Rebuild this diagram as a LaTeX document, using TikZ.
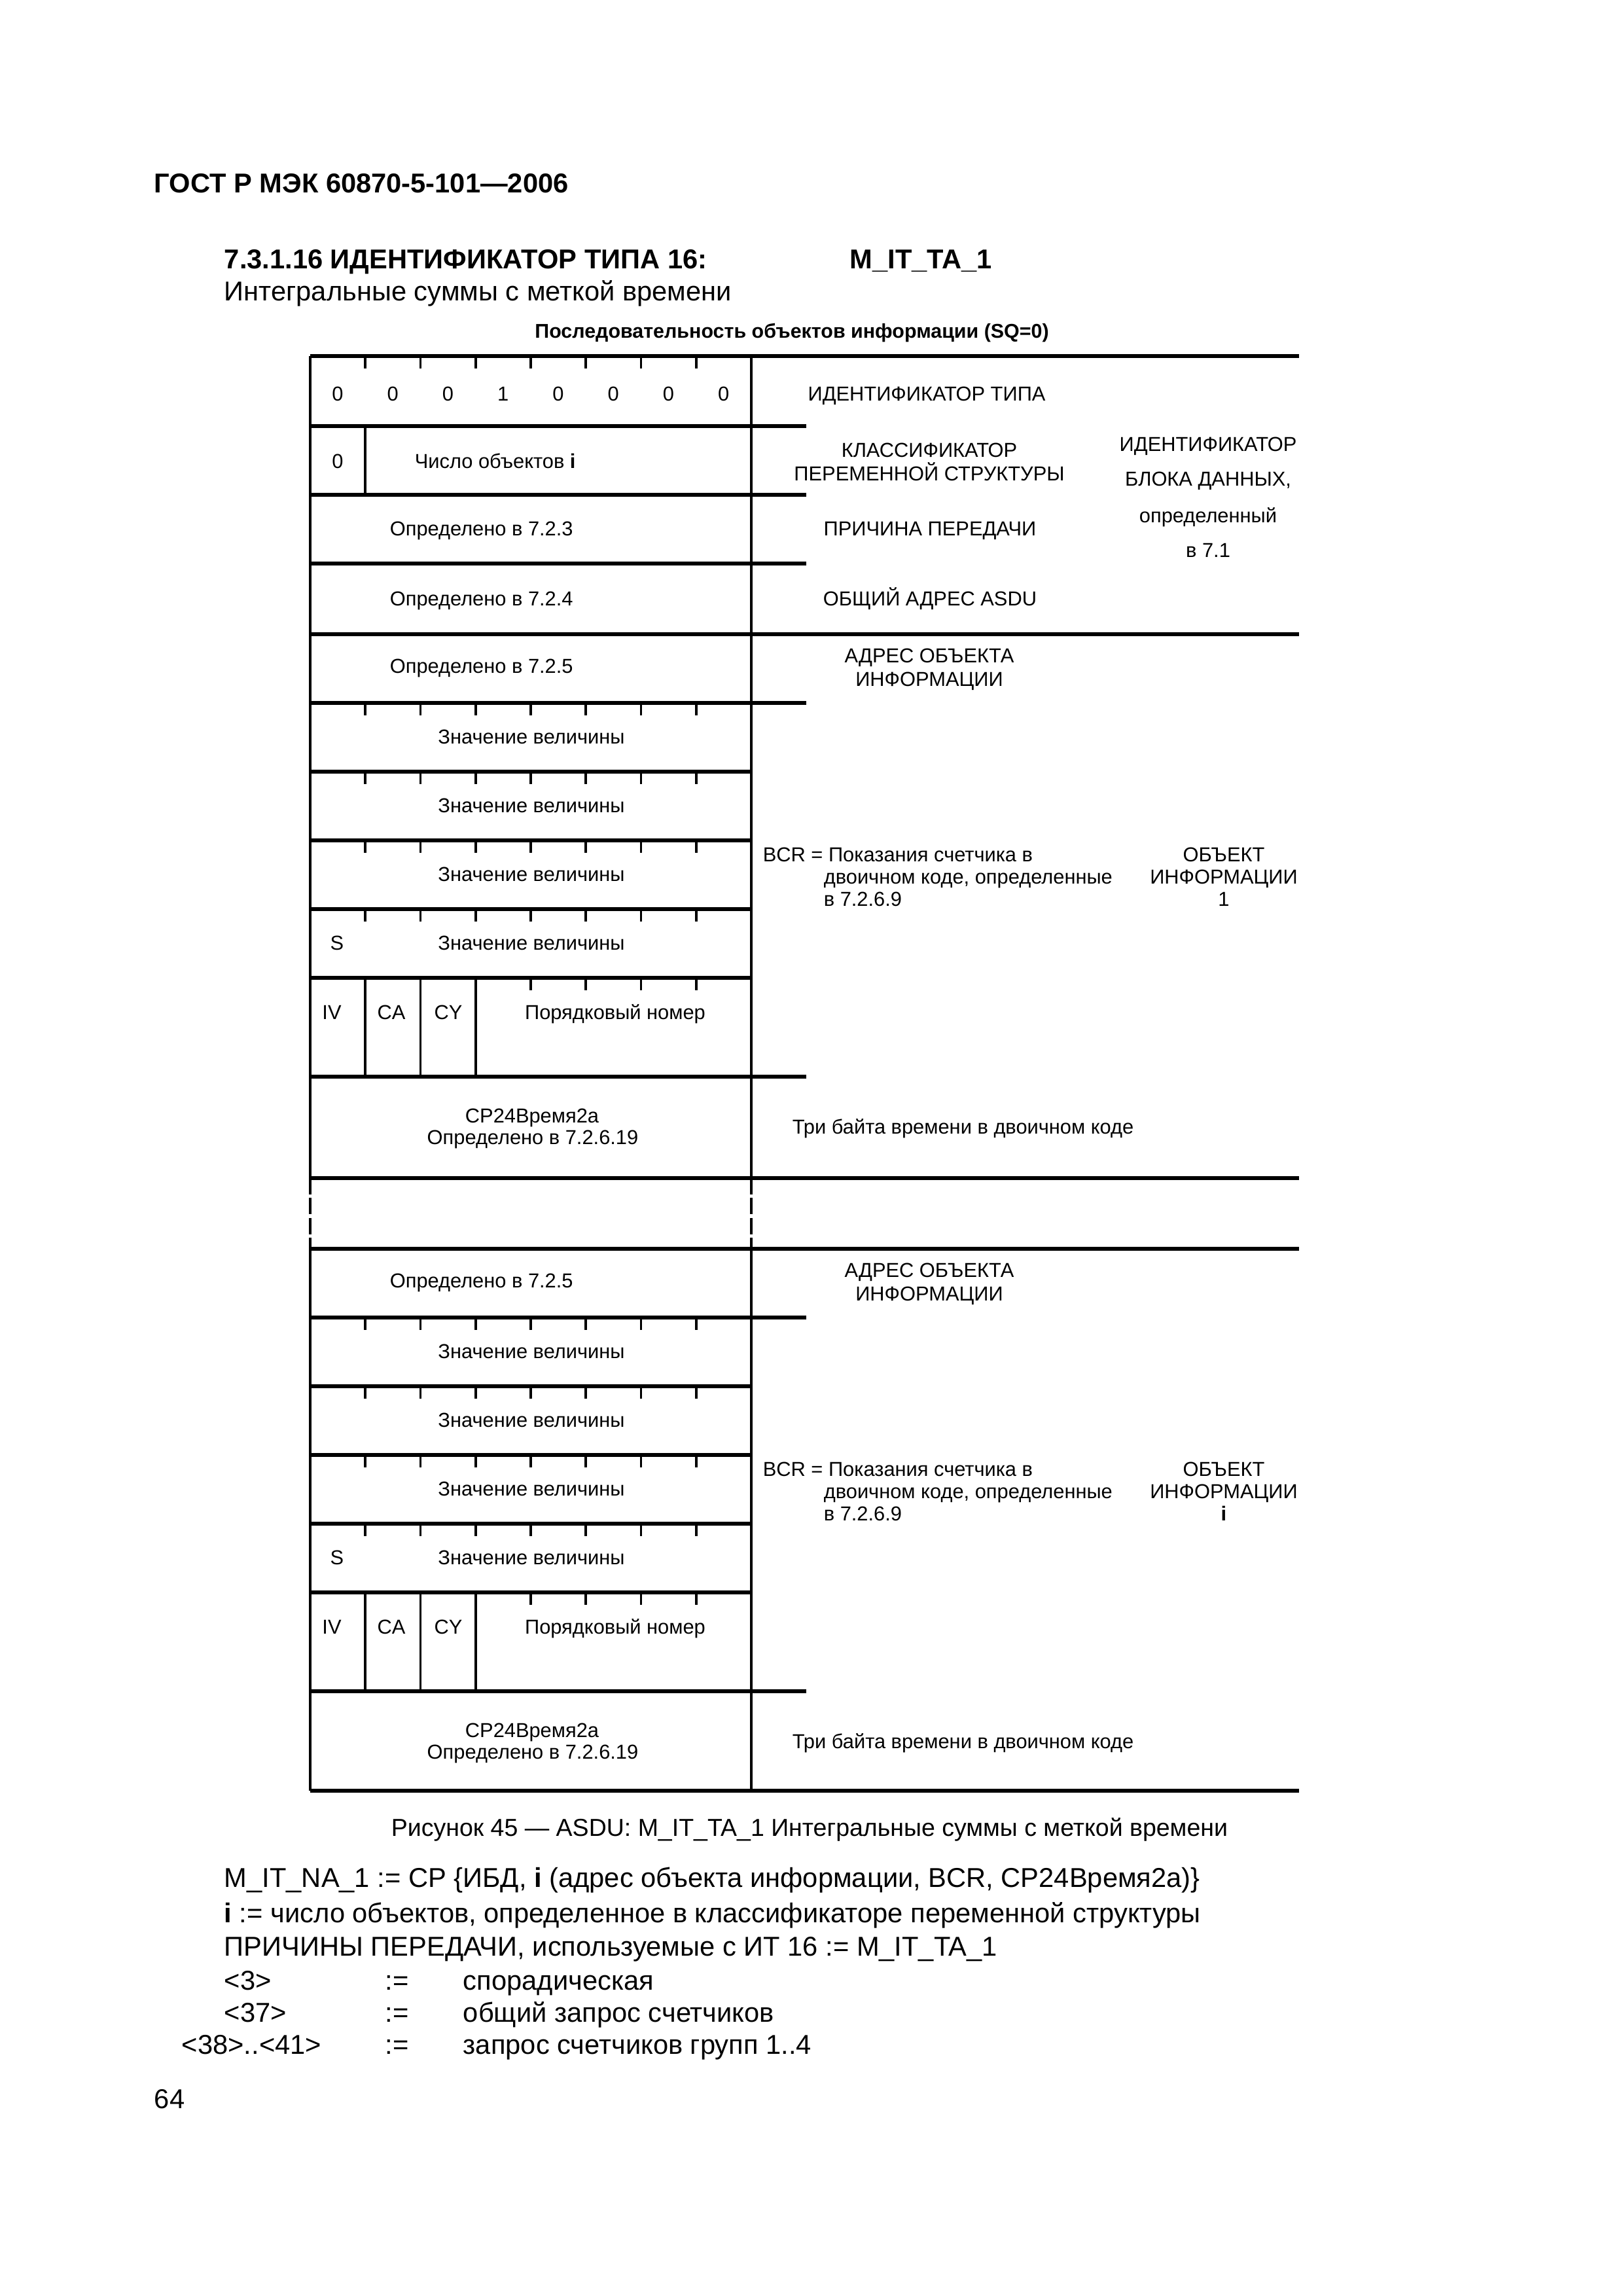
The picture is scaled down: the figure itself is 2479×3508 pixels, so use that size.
\documentclass[tikz,border=0pt]{standalone}
\usepackage{fontspec}
\setmainfont{Liberation Sans}
\begin{document}
\begin{tikzpicture}[x=0.24pt,y=-0.24pt,
  hl/.style={line width=1.4pt},
  vl/.style={line width=0.9pt},
  tk/.style={line width=0.9pt},
  t/.style={inner sep=0pt,anchor=base,yshift=-2.6pt,font=\fontsize{7.4}{9}\selectfont},
  tw/.style={t,anchor=base west},
  big/.style={inner sep=0pt,anchor=base west,yshift=-3.6pt,font=\fontsize{10}{12}\selectfont},
  bigb/.style={big,font=\fontsize{10}{12}\selectfont\bfseries},
]
\useasboundingbox (0,0) rectangle (2479,3508);

% horizontal lines
\foreach \y in {544,969,1800,1908,2736} \draw[hl] (474,\y) -- (1985,\y);
\foreach \y in {651,756,861,1074,1645,2013,2584} \draw[hl] (474,\y) -- (1232,\y);
\foreach \y in {1179,1284,1389,1494,2118,2223,2328,2433} \draw[hl] (474,\y) -- (1148,\y);

% vertical borders
\foreach \x in {474,1148} {
  \draw[vl] (\x,544) -- (\x,1800);
  \draw[vl,dash pattern=on 6pt off 1.3pt] (\x,1800) -- (\x,1908);
  \draw[vl] (\x,1908) -- (\x,2736);
}

% ticks
\foreach \y in {544,1074,1179,1284,1389,2013,2118,2223,2328}
  \foreach \k in {1,...,7} \draw[tk] (474+84.25*\k,\y) -- ++(0,19);
\foreach \y/\yy in {1494/1645,2433/2584} {
  \foreach \k in {1,2,3} \draw[vl] (474+84.25*\k,\y) -- (474+84.25*\k,\yy);
  \foreach \k in {4,...,7} \draw[tk] (474+84.25*\k,\y) -- ++(0,19);
}
\draw[vl] (558.25,651) -- (558.25,756);

% header texts
\node[bigb] (hdr) at (235,280) {ГОСТ Р МЭК 60870-5-101—2006};
\node[bigb] (ttl) at (342,396) {7.3.1.16 ИДЕНТИФИКАТОР ТИПА 16:};
\node[bigb] (ttlid) at (1298,396) {M\_IT\_TA\_1};
\node[big] (sub) at (342,445) {Интегральные суммы с меткой времени};
\node[t,font=\fontsize{7.3}{9}\selectfont\bfseries] (sq) at (1210,506) {Последовательность объектов информации (SQ=0)};

% row 1
\foreach \b [count=\i from 0] in {0,0,0,1,0,0,0,0}
  \node[t] (bit\i) at (516+84.25*\i,602) {\b};
\node[t] (idt) at (1416,602) {ИДЕНТИФИКАТОР ТИПА};
% row 2
\node[t] (z0) at (516,705) {0};
\node[tw] (num) at (633,705) {Число объектов \textbf{i}};
\node[t] (kl1) at (1420,688) {КЛАССИФИКАТОР};
\node[t] (kl2) at (1420,724) {ПЕРЕМЕННОЙ СТРУКТУРЫ};
\node[t] (ib1) at (1846,679) {ИДЕНТИФИКАТОР};
\node[t] (ib2) at (1846,732) {БЛОКА ДАННЫХ,};
\node[t] (ib3) at (1846,788) {определенный};
\node[t] (ib4) at (1846,841) {в 7.1};
% rows 3-4
\node[tw] (d723) at (595,808) {Определено в 7.2.3};
\node[t] (cot) at (1421,808) {ПРИЧИНА ПЕРЕДАЧИ};
\node[tw] (d724) at (595,915) {Определено в 7.2.4};
\node[t] (ca) at (1421,915) {ОБЩИЙ АДРЕС ASDU};

% information object blocks
\foreach \o/\nm/\lab in {0/a/1,939/b/\textbf{i}} {
  \node[tw] (d725\nm) at (595,1018+\o) {Определено в 7.2.5};
  \node[t] (ioa1\nm) at (1420,1002+\o) {АДРЕС ОБЪЕКТА};
  \node[t] (ioa2\nm) at (1420,1038+\o) {ИНФОРМАЦИИ};
  \foreach \r in {0,1,2,3}
    \node[t] (val\nm\r) at (812,1126+105*\r+\o) {Значение величины};
  \node[t] (s\nm) at (515,1441+\o) {S};
  \node[tw] (bcr1\nm) at (1165,1306+\o) {BCR = Показания счетчика в};
  \node[tw] (bcr2\nm) at (1258,1340+\o) {двоичном коде, определенные};
  \node[tw] (bcr3\nm) at (1258,1374+\o) {в 7.2.6.9};
  \node[t] (obj1\nm) at (1870,1306+\o) {ОБЪЕКТ};
  \node[t] (obj2\nm) at (1870,1340+\o) {ИНФОРМАЦИИ};
  \node[t] (obj3\nm) at (1870,1374+\o) {\lab};
  \node[t] (iv\nm) at (507,1547+\o) {IV};
  \node[t] (caf\nm) at (598,1547+\o) {CA};
  \node[t] (cy\nm) at (685,1547+\o) {CY};
  \node[t] (seq\nm) at (940,1547+\o) {Порядковый номер};
  \node[t] (cp1\nm) at (813,1705+\o) {CP24Время2а};
  \node[t] (cp2\nm) at (814,1738+\o) {Определено в 7.2.6.19};
  \node[tw] (tri\nm) at (1210,1722+\o) {Три байта времени в двоичном коде};
}

% caption and text below
\node[big,yshift=0.4pt,font=\fontsize{9}{11}\selectfont] (cap) at (597,2792) {Рисунок 45 — ASDU: M\_IT\_TA\_1 Интегральные суммы с меткой времени};
\node[big] (f1) at (342,2868) {M\_IT\_NA\_1 := CP \{ИБД, \textbf{i} (адрес объекта информации, BCR, CP24Время2а)\}};
\node[big] (f2) at (342,2922) {\textbf{i} := число объектов, определенное в классификаторе переменной структуры};
\node[big] (f3) at (342,2973) {ПРИЧИНЫ ПЕРЕДАЧИ, используемые с ИТ 16 := M\_IT\_TA\_1};
\node[big] (c3) at (342,3025) {<3>};
\node[big] (e3) at (588,3025) {:=};
\node[big] (v3) at (707,3025) {спорадическая};
\node[big] (c37) at (342,3074) {<37>};
\node[big] (e37) at (588,3074) {:=};
\node[big] (v37) at (707,3074) {общий запрос счетчиков};
\node[big] (c38) at (277,3123) {<38>..<41>};
\node[big] (e38) at (588,3123) {:=};
\node[big] (v38) at (707,3123) {запрос счетчиков групп 1..4};
\node[big] (pg) at (235,3206) {64};
\end{tikzpicture}
\end{document}
